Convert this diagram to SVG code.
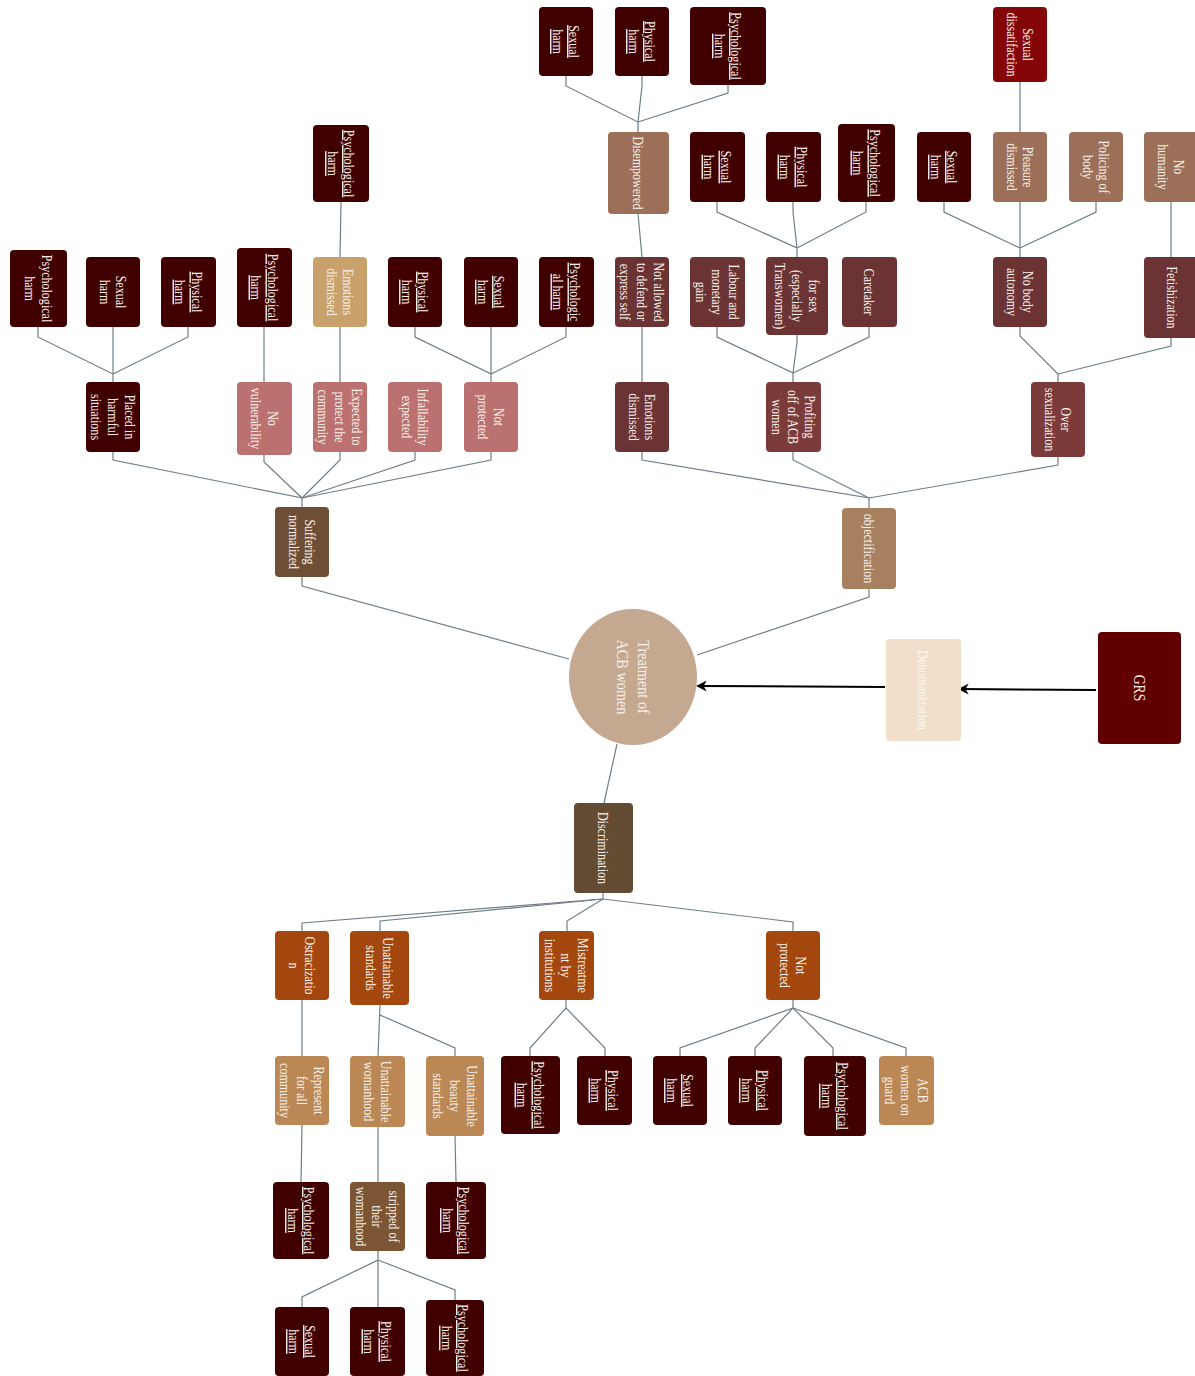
<svg xmlns="http://www.w3.org/2000/svg" width="1195" height="1376" viewBox="0 0 1195 1376">
<style>
text{font-family:"Liberation Serif","Times New Roman",serif;font-size:14px;fill:#f7f1ea;text-anchor:middle}
.u{text-decoration:underline}
.dk{fill:#400000}.sd{fill:#840606}.tb{fill:#9c7058}.tan{fill:#c9a16b}.mr{fill:#6b3333}.mr2{fill:#7b3b3b}
.pk{fill:#bc7171}.sn{fill:#6e4f35}.ob{fill:#a78060}.dh{fill:#f1dfcb}.grs{fill:#600000}.dc{fill:#644b34}
.or{fill:#a3470e}.lt{fill:#ba8755}.st{fill:#7c5535}
#connectors path{fill:none;stroke:#6f7f86;stroke-width:1.2}
#connectors path.ar{stroke:#000;stroke-width:2}
</style>
<defs>
<marker id="ah" viewBox="0 0 10 10" refX="8" refY="5" markerWidth="11" markerHeight="11" markerUnits="userSpaceOnUse" orient="auto"><path d="M0,0 L10,5 L0,10 L3,5 z" fill="#000"/></marker>
</defs>
<rect width="1195" height="1376" fill="#fff"/>
<g id="connectors">
<path d="M566,76 V86 L638,122 V132"/><path d="M642,76 V86 L638,122"/><path d="M728,85 V93 L638,122"/>
<path d="M638,214 L642,257"/><path d="M642,327 V382"/>
<path d="M717,202 V212 L797,248 V257"/><path d="M793,202 V212 L797,248"/><path d="M866,202 V212 L797,248"/>
<path d="M717,327 V337 L793,373 V382"/><path d="M797,335 V342 L793,373"/><path d="M869,327 V337 L793,373"/>
<path d="M944,202 V212 L1020,248 V257"/><path d="M1020,202 V248"/><path d="M1096,202 V212 L1020,248"/>
<path d="M1020,82 V132"/><path d="M1171,202 V257"/>
<path d="M1020,327 V336 L1058,374 V382"/><path d="M1171,338 V346 L1058,374"/>
<path d="M38,327 V337 L113,374 V382"/><path d="M113,327 V374"/><path d="M188,327 V337 L113,374"/>
<path d="M264,327 V382"/><path d="M341,202 L340,257"/><path d="M340,327 V382"/>
<path d="M415,327 V337 L491,374 V382"/><path d="M491,327 V374"/><path d="M566,327 V337 L491,374"/>
<path d="M113,452 V460 L302,498 V507"/><path d="M264,455 V462 L302,498"/><path d="M340,452 V460 L302,498"/><path d="M415,452 V460 L302,498"/><path d="M491,452 V460 L302,498"/>
<path d="M642,452 V460 L869,498 V508"/><path d="M793,452 V460 L869,498"/><path d="M1058,457 V465 L869,498"/>
<path d="M302,577 V586 L569,659"/><path d="M869,589 V597 L697,655"/>
<path d="M617,744 L604,803"/>
<path d="M603,893 V899 L302,923 V931"/><path d="M603,899 L380,921 V931"/><path d="M603,899 L567,921 V931"/><path d="M603,899 L793,922 V931"/>
<path d="M302,1000 V1056"/><path d="M380,1005 L378,1056"/><path d="M380,1015 L455,1048 V1056"/>
<path d="M566,1000 V1008 L530,1048 V1056"/><path d="M566,1008 L605,1048 V1056"/>
<path d="M793,1000 V1008 L680,1048 V1056"/><path d="M793,1008 L755,1048 V1056"/><path d="M793,1008 L833,1048 V1056"/><path d="M793,1008 L906,1048 V1056"/>
<path d="M302,1125 L301,1182"/><path d="M378,1127 V1182"/><path d="M455,1136 L456,1182"/>
<path d="M378,1251 V1260 L302,1297 V1307"/><path d="M378,1260 V1307"/><path d="M378,1260 L455,1290 V1300"/>
<path class="ar" d="M1096,690 L960,689" marker-end="url(#ah)"/>
<path class="ar" d="M885,687 L698,686" marker-end="url(#ah)"/>
</g>

<g id="n1"><rect class="dk" x="539" y="7" width="54" height="69" rx="4"/><text class="u" transform="translate(566,41.5) rotate(90) scale(0.86,1)"><tspan x="0" dy="-3.5">Sexual</tspan><tspan x="0" dy="17">harm</tspan></text></g>
<g id="n2"><rect class="dk" x="615" y="7" width="54" height="69" rx="4"/><text class="u" transform="translate(642,41.5) rotate(90) scale(0.86,1)"><tspan x="0" dy="-3.5">Physical</tspan><tspan x="0" dy="17">harm</tspan></text></g>
<g id="n3"><rect class="dk" x="690" y="7" width="76" height="78" rx="4"/><text class="u" transform="translate(728,46) rotate(90) scale(0.86,1)"><tspan x="0" dy="-3.5">Psychological</tspan><tspan x="0" dy="17">harm</tspan></text></g>
<g id="n4"><rect class="sd" x="993" y="7" width="54" height="75" rx="4"/><text transform="translate(1020,44.5) rotate(90) scale(0.86,1)"><tspan x="0" dy="-3.5">Sexual</tspan><tspan x="0" dy="17">dissatifaction</tspan></text></g>
<g id="n5"><rect class="dk" x="313" y="125" width="56" height="77" rx="4"/><text class="u" transform="translate(341,163.5) rotate(90) scale(0.86,1)"><tspan x="0" dy="-3.5">Psychological</tspan><tspan x="0" dy="17">harm</tspan></text></g>
<g id="n6"><rect class="tb" x="608" y="132" width="61" height="82" rx="4"/><text transform="translate(638.5,173) rotate(90) scale(0.86,1)"><tspan x="0" dy="5">Disempowered</tspan></text></g>
<g id="n7"><rect class="dk" x="690" y="132" width="55" height="70" rx="4"/><text class="u" transform="translate(717.5,167) rotate(90) scale(0.86,1)"><tspan x="0" dy="-3.5">Sexual</tspan><tspan x="0" dy="17">harm</tspan></text></g>
<g id="n8"><rect class="dk" x="766" y="132" width="55" height="70" rx="4"/><text class="u" transform="translate(793.5,167) rotate(90) scale(0.86,1)"><tspan x="0" dy="-3.5">Physical</tspan><tspan x="0" dy="17">harm</tspan></text></g>
<g id="n9"><rect class="dk" x="838" y="124" width="57" height="78" rx="4"/><text class="u" transform="translate(866.5,163) rotate(90) scale(0.86,1)"><tspan x="0" dy="-3.5">Psychological</tspan><tspan x="0" dy="17">harm</tspan></text></g>
<g id="n10"><rect class="dk" x="917" y="132" width="54" height="70" rx="4"/><text class="u" transform="translate(944,167) rotate(90) scale(0.86,1)"><tspan x="0" dy="-3.5">Sexual</tspan><tspan x="0" dy="17">harm</tspan></text></g>
<g id="n11"><rect class="tb" x="993" y="132" width="54" height="70" rx="4"/><text transform="translate(1020,167) rotate(90) scale(0.86,1)"><tspan x="0" dy="-3.5">Pleasure</tspan><tspan x="0" dy="17">dismissed</tspan></text></g>
<g id="n12"><rect class="tb" x="1069" y="132" width="54" height="70" rx="4"/><text transform="translate(1096,167) rotate(90) scale(0.86,1)"><tspan x="0" dy="-3.5">Policing of</tspan><tspan x="0" dy="17">body</tspan></text></g>
<g id="n13"><rect class="tb" x="1144" y="132" width="56" height="70" rx="4"/><text transform="translate(1171,167) rotate(90) scale(0.86,1)"><tspan x="0" dy="-3.5">No</tspan><tspan x="0" dy="17">humanity</tspan></text></g>
<g id="n14"><rect class="dk" x="10" y="250" width="57" height="77" rx="4"/><text transform="translate(38.5,288.5) rotate(90) scale(0.86,1)"><tspan x="0" dy="-3.5">Psychological</tspan><tspan x="0" dy="17">harm</tspan></text></g>
<g id="n15"><rect class="dk" x="86" y="257" width="54" height="70" rx="4"/><text transform="translate(113,292) rotate(90) scale(0.86,1)"><tspan x="0" dy="-3.5">Sexual</tspan><tspan x="0" dy="17">harm</tspan></text></g>
<g id="n16"><rect class="dk" x="161" y="257" width="55" height="70" rx="4"/><text class="u" transform="translate(188.5,292) rotate(90) scale(0.86,1)"><tspan x="0" dy="-3.5">Physical</tspan><tspan x="0" dy="17">harm</tspan></text></g>
<g id="n17"><rect class="dk" x="237" y="248" width="55" height="79" rx="4"/><text class="u" transform="translate(264.5,287.5) rotate(90) scale(0.86,1)"><tspan x="0" dy="-3.5">Psychological</tspan><tspan x="0" dy="17">harm</tspan></text></g>
<g id="n18"><rect class="tan" x="313" y="257" width="54" height="70" rx="4"/><text transform="translate(340,292) rotate(90) scale(0.86,1)"><tspan x="0" dy="-3.5">Emotions</tspan><tspan x="0" dy="17">dismissed</tspan></text></g>
<g id="n19"><rect class="dk" x="388" y="257" width="54" height="70" rx="4"/><text class="u" transform="translate(415,292) rotate(90) scale(0.86,1)"><tspan x="0" dy="-3.5">Physical</tspan><tspan x="0" dy="17">harm</tspan></text></g>
<g id="n20"><rect class="dk" x="464" y="257" width="54" height="70" rx="4"/><text class="u" transform="translate(491,292) rotate(90) scale(0.86,1)"><tspan x="0" dy="-3.5">Sexual</tspan><tspan x="0" dy="17">harm</tspan></text></g>
<g id="n21"><rect class="dk" x="539" y="257" width="55" height="70" rx="4"/><text class="u" transform="translate(566.5,292) rotate(90) scale(0.86,1)"><tspan x="0" dy="-3.5">Psychologic</tspan><tspan x="0" dy="17">al harm</tspan></text></g>
<g id="n22"><rect class="mr" x="615" y="257" width="54" height="70" rx="4"/><text transform="translate(642,292) rotate(90) scale(0.86,1)"><tspan x="0" dy="-12">Not allowed</tspan><tspan x="0" dy="17">to defend or</tspan><tspan x="0" dy="17">express self</tspan></text></g>
<g id="n23"><rect class="mr" x="690" y="257" width="55" height="70" rx="4"/><text transform="translate(717.5,292) rotate(90) scale(0.86,1)"><tspan x="0" dy="-12">Labour and</tspan><tspan x="0" dy="17">monetary</tspan><tspan x="0" dy="17">gain</tspan></text></g>
<g id="n24"><rect class="mr" x="766" y="257" width="62" height="78" rx="4"/><text transform="translate(797,296) rotate(90) scale(0.86,1)"><tspan x="0" dy="-12">for sex</tspan><tspan x="0" dy="17">(especially</tspan><tspan x="0" dy="17">Transwomen)</tspan></text></g>
<g id="n25"><rect class="mr" x="842" y="257" width="55" height="70" rx="4"/><text transform="translate(869.5,292) rotate(90) scale(0.86,1)"><tspan x="0" dy="5">Caretaker</tspan></text></g>
<g id="n26"><rect class="mr" x="993" y="257" width="54" height="70" rx="4"/><text transform="translate(1020,292) rotate(90) scale(0.86,1)"><tspan x="0" dy="-3.5">No body</tspan><tspan x="0" dy="17">autonomy</tspan></text></g>
<g id="n27"><rect class="mr" x="1144" y="257" width="56" height="81" rx="4"/><text transform="translate(1172,297.5) rotate(90) scale(0.86,1)"><tspan x="0" dy="5">Fetishization</tspan></text></g>
<g id="n28"><rect class="dk" x="86" y="382" width="54" height="70" rx="4"/><text transform="translate(113,417) rotate(90) scale(0.86,1)"><tspan x="0" dy="-12">Placed in</tspan><tspan x="0" dy="17">harmful</tspan><tspan x="0" dy="17">situations</tspan></text></g>
<g id="n29"><rect class="pk" x="237" y="382" width="55" height="73" rx="4"/><text transform="translate(264.5,418.5) rotate(90) scale(0.86,1)"><tspan x="0" dy="-3.5">No</tspan><tspan x="0" dy="17">vulnerability</tspan></text></g>
<g id="n30"><rect class="pk" x="313" y="382" width="54" height="70" rx="4"/><text transform="translate(340,417) rotate(90) scale(0.86,1)"><tspan x="0" dy="-12">Expected to</tspan><tspan x="0" dy="17">protect the</tspan><tspan x="0" dy="17">community</tspan></text></g>
<g id="n31"><rect class="pk" x="388" y="382" width="54" height="70" rx="4"/><text transform="translate(415,417) rotate(90) scale(0.86,1)"><tspan x="0" dy="-3.5">Infallability</tspan><tspan x="0" dy="17">expected</tspan></text></g>
<g id="n32"><rect class="pk" x="464" y="382" width="54" height="70" rx="4"/><text transform="translate(491,417) rotate(90) scale(0.86,1)"><tspan x="0" dy="-3.5">Not</tspan><tspan x="0" dy="17">protected</tspan></text></g>
<g id="n33"><rect class="mr" x="615" y="382" width="54" height="70" rx="4"/><text transform="translate(642,417) rotate(90) scale(0.86,1)"><tspan x="0" dy="-3.5">Emotions</tspan><tspan x="0" dy="17">dismissed</tspan></text></g>
<g id="n34"><rect class="mr2" x="766" y="382" width="55" height="70" rx="4"/><text transform="translate(793.5,417) rotate(90) scale(0.86,1)"><tspan x="0" dy="-12">Profiting</tspan><tspan x="0" dy="17">off of ACB</tspan><tspan x="0" dy="17">women</tspan></text></g>
<g id="n35"><rect class="mr2" x="1031" y="382" width="54" height="75" rx="4"/><text transform="translate(1058,419.5) rotate(90) scale(0.86,1)"><tspan x="0" dy="-3.5">Over</tspan><tspan x="0" dy="17">sexualization</tspan></text></g>
<g id="n36"><rect class="sn" x="275" y="507" width="54" height="70" rx="4"/><text transform="translate(302,542) rotate(90) scale(0.86,1)"><tspan x="0" dy="-3.5">Suffering</tspan><tspan x="0" dy="17">normalized</tspan></text></g>
<g id="n37"><rect class="ob" x="842" y="508" width="54" height="81" rx="4"/><text transform="translate(869,548.5) rotate(90) scale(0.86,1)"><tspan x="0" dy="5">objectification</tspan></text></g>
<g id="n38"><ellipse cx="633" cy="677" rx="64" ry="68" fill="#c4a88f"/><text style="font-size:17px" transform="translate(633,677) rotate(90) scale(0.84,1)"><tspan x="0" dy="-5">Treatment of</tspan><tspan x="0" dy="21">ACB women</tspan></text></g>
<g id="n39"><rect class="dh" x="886" y="639" width="75" height="102" rx="4"/><text style="fill:#fdf7f0" transform="translate(923.5,690) rotate(90) scale(0.86,1)"><tspan x="0" dy="5">Dehumanization</tspan></text></g>
<g id="n40"><rect class="grs" x="1098" y="632" width="83" height="112" rx="4"/><text style="font-size:16px" transform="translate(1139.5,688) rotate(90) scale(0.86,1)"><tspan x="0" dy="5.5">GRS</tspan></text></g>
<g id="n41"><rect class="dc" x="574" y="803" width="59" height="90" rx="4"/><text transform="translate(603.5,848) rotate(90) scale(0.86,1)"><tspan x="0" dy="5">Discrimination</tspan></text></g>
<g id="n42"><rect class="or" x="275" y="931" width="54" height="69" rx="4"/><text transform="translate(302,965.5) rotate(90) scale(0.86,1)"><tspan x="0" dy="-3.5">Ostracizatio</tspan><tspan x="0" dy="17">n</tspan></text></g>
<g id="n43"><rect class="or" x="350" y="931" width="59" height="74" rx="4"/><text transform="translate(379.5,968) rotate(90) scale(0.86,1)"><tspan x="0" dy="-3.5">Unattainable</tspan><tspan x="0" dy="17">standards</tspan></text></g>
<g id="n44"><rect class="or" x="539" y="931" width="55" height="69" rx="4"/><text transform="translate(566.5,965.5) rotate(90) scale(0.86,1)"><tspan x="0" dy="-12">Mistreatme</tspan><tspan x="0" dy="17">nt by</tspan><tspan x="0" dy="17">institutions</tspan></text></g>
<g id="n45"><rect class="or" x="766" y="931" width="54" height="69" rx="4"/><text transform="translate(793,965.5) rotate(90) scale(0.86,1)"><tspan x="0" dy="-3.5">Not</tspan><tspan x="0" dy="17">protected</tspan></text></g>
<g id="n46"><rect class="lt" x="275" y="1056" width="54" height="69" rx="4"/><text transform="translate(302,1090.5) rotate(90) scale(0.86,1)"><tspan x="0" dy="-12">Represent</tspan><tspan x="0" dy="17">for all</tspan><tspan x="0" dy="17">community</tspan></text></g>
<g id="n47"><rect class="lt" x="350" y="1056" width="55" height="71" rx="4"/><text transform="translate(377.5,1091.5) rotate(90) scale(0.86,1)"><tspan x="0" dy="-3.5">Unattainable</tspan><tspan x="0" dy="17">womanhood</tspan></text></g>
<g id="n48"><rect class="lt" x="426" y="1056" width="58" height="80" rx="4"/><text transform="translate(455,1096) rotate(90) scale(0.86,1)"><tspan x="0" dy="-12">Unattainable</tspan><tspan x="0" dy="17">beauty</tspan><tspan x="0" dy="17">standards</tspan></text></g>
<g id="n49"><rect class="dk" x="501" y="1056" width="59" height="78" rx="4"/><text class="u" transform="translate(530.5,1095) rotate(90) scale(0.86,1)"><tspan x="0" dy="-3.5">Psychological</tspan><tspan x="0" dy="17">harm</tspan></text></g>
<g id="n50"><rect class="dk" x="577" y="1056" width="55" height="69" rx="4"/><text class="u" transform="translate(604.5,1090.5) rotate(90) scale(0.86,1)"><tspan x="0" dy="-3.5">Physical</tspan><tspan x="0" dy="17">harm</tspan></text></g>
<g id="n51"><rect class="dk" x="653" y="1056" width="54" height="69" rx="4"/><text class="u" transform="translate(680,1090.5) rotate(90) scale(0.86,1)"><tspan x="0" dy="-3.5">Sexual</tspan><tspan x="0" dy="17">harm</tspan></text></g>
<g id="n52"><rect class="dk" x="728" y="1056" width="54" height="69" rx="4"/><text class="u" transform="translate(755,1090.5) rotate(90) scale(0.86,1)"><tspan x="0" dy="-3.5">Physical</tspan><tspan x="0" dy="17">harm</tspan></text></g>
<g id="n53"><rect class="dk" x="804" y="1056" width="62" height="80" rx="4"/><text class="u" transform="translate(835,1096) rotate(90) scale(0.86,1)"><tspan x="0" dy="-3.5">Psychological</tspan><tspan x="0" dy="17">harm</tspan></text></g>
<g id="n54"><rect class="lt" x="879" y="1056" width="55" height="69" rx="4"/><text transform="translate(906.5,1090.5) rotate(90) scale(0.86,1)"><tspan x="0" dy="-12">ACB</tspan><tspan x="0" dy="17">women on</tspan><tspan x="0" dy="17">guard</tspan></text></g>
<g id="n55"><rect class="dk" x="273" y="1182" width="56" height="77" rx="4"/><text class="u" transform="translate(301,1220.5) rotate(90) scale(0.86,1)"><tspan x="0" dy="-3.5">Psychological</tspan><tspan x="0" dy="17">harm</tspan></text></g>
<g id="n56"><rect class="st" x="350" y="1182" width="55" height="69" rx="4"/><text transform="translate(377.5,1216.5) rotate(90) scale(0.86,1)"><tspan x="0" dy="-12">stripped of</tspan><tspan x="0" dy="17">their</tspan><tspan x="0" dy="17">womanhood</tspan></text></g>
<g id="n57"><rect class="dk" x="426" y="1182" width="60" height="77" rx="4"/><text class="u" transform="translate(456,1220.5) rotate(90) scale(0.86,1)"><tspan x="0" dy="-3.5">Psychological</tspan><tspan x="0" dy="17">harm</tspan></text></g>
<g id="n58"><rect class="dk" x="275" y="1307" width="54" height="69" rx="4"/><text class="u" transform="translate(302,1341.5) rotate(90) scale(0.86,1)"><tspan x="0" dy="-3.5">Sexual</tspan><tspan x="0" dy="17">harm</tspan></text></g>
<g id="n59"><rect class="dk" x="350" y="1307" width="55" height="69" rx="4"/><text class="u" transform="translate(377.5,1341.5) rotate(90) scale(0.86,1)"><tspan x="0" dy="-3.5">Physical</tspan><tspan x="0" dy="17">harm</tspan></text></g>
<g id="n60"><rect class="dk" x="426" y="1300" width="58" height="76" rx="4"/><text class="u" transform="translate(455,1338) rotate(90) scale(0.86,1)"><tspan x="0" dy="-3.5">Psychological</tspan><tspan x="0" dy="17">harm</tspan></text></g>
</svg>
